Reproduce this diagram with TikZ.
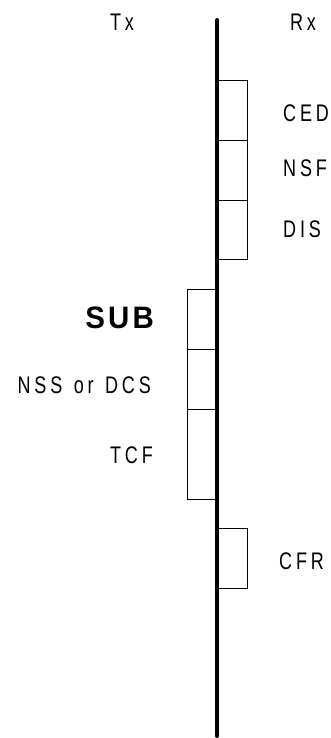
\documentclass[tikz,border=0pt]{standalone}
\usepackage{fontspec}
\setmainfont{Liberation Sans}[FakeStretch=0.75,LetterSpace=16,WordSpace=1.3]
\newfontfamily\subfont{Liberation Sans Bold}[FakeStretch=0.95,LetterSpace=10]
\usetikzlibrary{positioning}
\tikzset{slot/.style={draw,line width=0.8pt,minimum width=30pt,inner sep=0pt,outer sep=0pt},
  lbl/.style={font=\fontsize{24}{28}\selectfont,inner sep=0pt}}

\begin{document}
\begin{tikzpicture}[x=1pt,y=-1pt]
    \useasboundingbox (0,0) rectangle (331,738);
    % Rx side
    \node[slot,minimum height=60pt,anchor=north west] (ced) at (217,80) {};
    \node[slot,minimum height=60pt,below=0pt of ced] (nsf) {};
    \node[slot,minimum height=59pt,below=0pt of nsf] (dis) {};
    \node[slot,minimum height=60pt,anchor=north west] (cfr) at (217,528) {};
    % Tx side
    \node[slot,minimum height=60pt,anchor=north east] (sub) at (217,289) {};
    \node[slot,minimum height=60pt,below=0pt of sub] (nss) {};
    \node[slot,minimum height=90pt,below=0pt of nss] (tcf) {};
    % time line
    \coordinate (top) at (217,20);
    \coordinate (bot) at (217,736);
    \draw[line width=4pt,line cap=round] (top) -- (bot);
    \node[lbl] (tx) at (122,22.5) {Tx};
    \node[lbl] (rx) at (303,22.5) {Rx};
    \node[lbl,anchor=west] (cedl) at ([xshift=36pt,yshift=-3pt]ced.east) {CED};
    \node[lbl,anchor=west] (nsfl) at ([xshift=36pt,yshift=2pt]nsf.east) {NSF};
    \node[lbl,anchor=west] (disl) at ([xshift=36pt]dis.east) {DIS};
    \node[lbl,anchor=west] (cfrl) at ([xshift=32pt,yshift=-3pt]cfr.east) {CFR};
    \node[lbl,anchor=east,font=\fontsize{31}{34}\subfont] (subl) at ([xshift=-33pt,yshift=1pt]sub.west) {SUB};
    \node[lbl,anchor=east] (nssl) at ([xshift=-36pt,yshift=-6pt]nss.west) {NSS or DCS};
    \node[lbl,anchor=east] (tcfl) at ([xshift=-34pt,yshift=-1pt]tcf.west) {TCF};
\end{tikzpicture}
\end{document}
